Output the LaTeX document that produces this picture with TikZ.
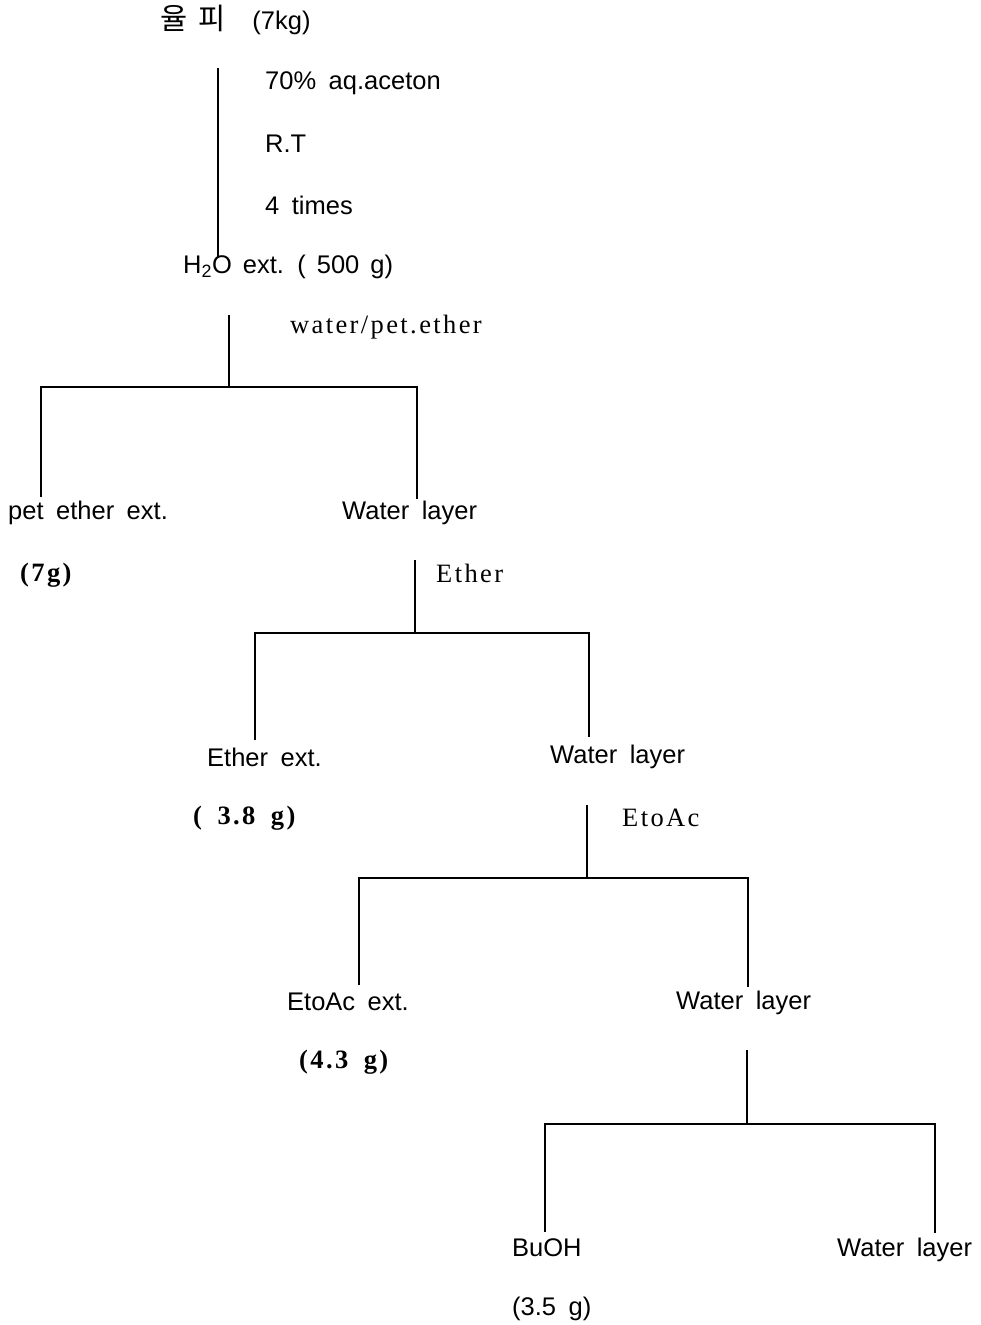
\documentclass[tikz,border=0pt]{standalone}
\usepackage{fontspec}
\setmainfont{Liberation Sans}
\newfontfamily\krfont{Noto Sans CJK KR}
\newfontfamily\spacedserif[LetterSpace=9]{Liberation Serif}
\begin{document}
\begin{tikzpicture}[x=1pt,y=-1pt,
  txt/.style={anchor=west,inner sep=0pt,font={\fontsize{25.5}{30}\selectfont\spaceskip=12.5pt\relax}},
  mono/.style={anchor=west,inner sep=0pt,font={\fontsize{26.5}{30}\spacedserif\selectfont}},
  monob/.style={anchor=west,inner sep=0pt,font={\fontsize{26.5}{30}\spacedserif\bfseries\selectfont\spaceskip=15.5pt\relax}},
  link/.style={line width=1.4pt,line cap=butt}]
\useasboundingbox[fill=white] (0,0) rectangle (981,1325);
% texts
\node[txt] (start) at (160,20) {{\fontsize{29.5}{33}\krfont\selectfont 율\hspace{11pt}피}\hspace{27pt}(7kg)};
\node[txt] (c1) at (265,83) {70\% aq.aceton};
\node[txt] (c2) at (265,144) {R.T};
\node[txt] (c3) at (265,205) {4 times};
\node[txt,font={\fontsize{25.5}{30}\selectfont\spaceskip=11pt\relax}] (h2o) at (183,267) {H\textsubscript{2}O ext. ( 500 g)};
\node[mono] (s1) at (290,327) {water/pet.ether};
\node[txt] (pe) at (8,513) {pet ether ext.};
\node[monob] (pew) at (20,575) {(7g)};
\node[txt] (w1) at (342,513) {Water layer};
\node[mono] (s2) at (436,573) {Ether};
\node[txt] (ee) at (207,757) {Ether ext.};
\node[monob] (eew) at (193,818) {( 3.8 g)};
\node[txt] (w2) at (550,757) {Water layer};
\node[mono] (s3) at (622,818) {EtoAc};
\node[txt] (ea) at (287,1002) {EtoAc ext.};
\node[monob] (eaw) at (299,1062) {(4.3 g)};
\node[txt] (w3) at (676,1003) {Water layer};
\node[txt] (bu) at (512,1248) {BuOH};
\node[txt] (buw) at (512,1309) {(3.5 g)};
\node[txt] (w4) at (837,1250) {Water layer};
% junction coordinates
\coordinate (a0) at (218,68);  \coordinate (a1) at (218,258);
\coordinate (b0) at (229,315); \coordinate (b1) at (229,387);
\coordinate (bl) at (41,387);  \coordinate (br) at (417,387);
\coordinate (bl1) at (41,497); \coordinate (br1) at (417,499);
\coordinate (c0) at (415,560); \coordinate (cj) at (415,633);
\coordinate (cl) at (255,633); \coordinate (cr) at (589,633);
\coordinate (cl1) at (255,740); \coordinate (cr1) at (589,737);
\coordinate (d0) at (587,805); \coordinate (dj) at (587,878);
\coordinate (dl) at (359,878); \coordinate (dr) at (748,878);
\coordinate (dl1) at (359,985); \coordinate (dr1) at (748,987);
\coordinate (e0) at (747,1050); \coordinate (ej) at (747,1124);
\coordinate (el) at (545,1124); \coordinate (er) at (935,1124);
\coordinate (el1) at (545,1232); \coordinate (er1) at (935,1233);
% connectors
\draw[link] (a0) -- (a1);
\draw[link] (b0) -- (b1);
\draw[link] (bl1) -- (bl) -- (br) -- (br1);
\draw[link] (c0) -- (cj);
\draw[link] (cl1) -- (cl) -- (cr) -- (cr1);
\draw[link] (d0) -- (dj);
\draw[link] (dl1) -- (dl) -- (dr) -- (dr1);
\draw[link] (e0) -- (ej);
\draw[link] (el1) -- (el) -- (er) -- (er1);
\end{tikzpicture}
\end{document}
